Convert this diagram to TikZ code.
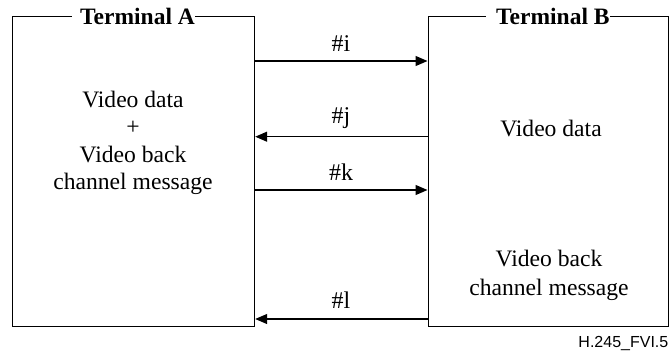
\documentclass[tikz,border=0pt]{standalone}
\usepackage{fontspec}
\setmainfont{Liberation Serif}
\newfontfamily\footfont{Liberation Sans}
\usetikzlibrary{arrows.meta}
\tikzset{
  termbox/.style={draw, line width=1.2pt, inner sep=0pt, anchor=north west},
  title/.style={font=\fontsize{23.5}{25}\selectfont\bfseries, fill=white, inner sep=0pt, anchor=base west},
  body/.style={font=\fontsize{23.6}{25}\selectfont, inner sep=0pt, anchor=base},
  lbl/.style={font=\fontsize{24}{26}\selectfont, inner sep=0pt, anchor=base},
  arr/.style={line width=1.2pt, -{Triangle[length=12pt,width=10pt]}},
}
\begin{document}
\begin{tikzpicture}[x=1pt,y=-1pt]
\useasboundingbox (0,0) rectangle (669,351);
\node[termbox, minimum width=242pt, minimum height=310.5pt] (A) at (12,15.5) {};
\node[termbox, minimum width=240.5pt, minimum height=310.5pt] (B) at (427.5,15.5) {};
\node[title] (tA) at (72,24) {\hspace{8pt}Terminal A};
\node[title] (tB) at (486,24) {\hspace{10pt}Terminal B};
% left texts
\node[body] (a1) at (133,107.5) {Video data};
\node[body, anchor=center] (a2) at (133,127.7) {+};
\node[body] (a3) at (133,162) {Video back};
\node[body] (a4) at (133,189) {channel message};
% right texts
\node[body] (b1) at (551,136.5) {Video data};
\node[body] (b2) at (549,266.7) {Video back};
\node[body] (b3) at (549,295) {channel message};
% labels
\node[lbl] (li) at (341,51.7) {\#i};
\node[lbl] (lj) at (341,123) {\#j};
\node[lbl] (lk) at (341,180) {\#k};
\node[lbl] (ll) at (341,308.5) {\#l};
% arrows
\draw[arr] (A.east |- 0,61) -- (B.west |- 0,61);
\draw[arr] (B.west |- 0,136.7) -- (A.east |- 0,136.7);
\draw[arr] (A.east |- 0,190) -- (B.west |- 0,190);
\draw[arr] (B.west |- 0,319) -- (A.east |- 0,319);
% footer
\node[font=\footfont\fontsize{16}{18}\selectfont, inner sep=0pt, anchor=base east] (ft) at (668.5,347) {H.245\_FVI.5};
\end{tikzpicture}
\end{document}
